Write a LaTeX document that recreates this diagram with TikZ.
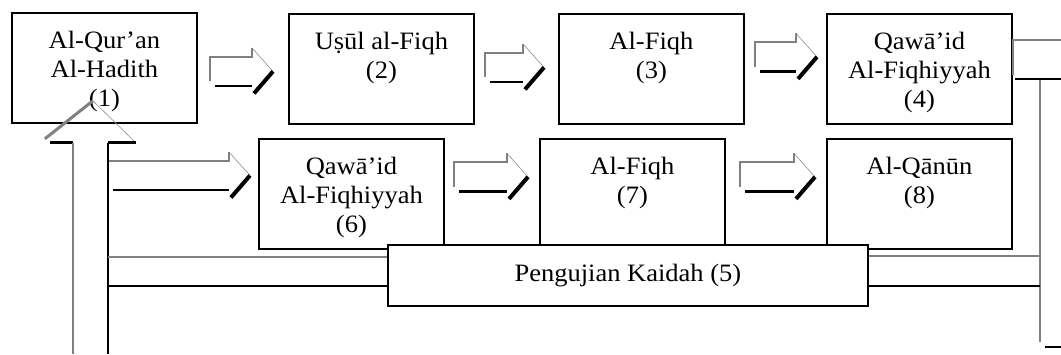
\documentclass[tikz,border=0pt]{standalone}
\usepackage{fontspec}
\setmainfont{Liberation Serif}[FakeStretch=1.06]
\usetikzlibrary{calc}

\definecolor{edgegray}{gray}{0.5}
\definecolor{headgray}{gray}{0.55}

\def\boxw{92.5pt}
\def\boxh{55pt}

\newcommand{\boxtext}[1]{\parbox[t][\boxh][t]{\boxw}{\centering\vspace*{7.8pt}\strut #1}}

\tikzset{
	box/.style={draw, line width=0.9pt, inner sep=0pt, anchor=north west},
	lightedge/.style={draw=edgegray, line width=1pt},
	lighthead/.style={draw=headgray, line width=0.3pt},
	darkedge/.style={draw=black, line width=1.4pt},
	darkhead/.style={draw=black, line width=2pt},
}

% block arrow: start point, target node, gap before the target
\newcommand{\hollowarrow}[3]{%
	\coordinate (ha-s) at #1;
	\path (ha-s -| #2.west) ++(-#3,0) coordinate (ha-t);
	\draw[lightedge] ($(ha-s)+(0,10)$) -- ($(ha-s)+(0,-14.5)$) -- ($(ha-t)+(-21,-14.5)$) -- ($(ha-t)+(-21,-23.5)$);
	\draw[lighthead] ($(ha-t)+(-21,-23.5)$) -- (ha-t);
	\draw[darkedge] ($(ha-s)+(5,14.5)$) -- ($(ha-t)+(-21,14.5)$);
	\draw[darkhead] ($(ha-t)+(-19,22)$) -- (ha-t);
}

\begin{document}
\begin{tikzpicture}[x=0.5pt, y=-0.5pt, font=\fontsize{12.5}{14.5}\selectfont]

	\useasboundingbox (0,0) rectangle (1061,354);

	%%% Top row
	\node[box] (quran) at (11,12) {\boxtext{Al-Qur’an\\Al-Hadith\\(1)}};
	\node[box] (usul) at (288,13) {\boxtext{Uṣūl al-Fiqh\\(2)}};
	\node[box] (fiqh) at (558,13) {\boxtext{Al-Fiqh\\(3)}};
	\node[box] (qawaid) at (826,13) {\boxtext{Qawā’id\\Al-Fiqhiyyah\\(4)}};

	%%% Bottom row
	\node[box] (qawaidb) at (258,138) {\boxtext{Qawā’id\\Al-Fiqhiyyah\\(6)}};
	\node[box] (fiqhb) at (539,138) {\boxtext{Al-Fiqh\\(7)}};
	\node[box] (qanun) at (826,138) {\boxtext{Al-Qānūn\\(8)}};

	%%% Big arrow up into (1)
	\coordinate (up-tip) at ($(quran.south)+(-11.5,-23)$);
	\coordinate (shaft-l) at ($(up-tip)+(-20,42)$);
	\coordinate (shaft-r) at ($(up-tip)+(15,42)$);

	%%% Block arrows
	\hollowarrow{($(quran.east)+(12,3.5)$)}{usul}{15}
	\hollowarrow{($(usul.east)+(10,-1.5)$)}{fiqh}{14}
	\hollowarrow{($(fiqh.east)+(10,-12)$)}{qawaid}{9}
	\hollowarrow{(shaft-r |- 0,175.5)}{qawaidb}{8}
	\hollowarrow{($(qawaidb.east)+(9,-17)$)}{fiqhb}{11}
	\hollowarrow{($(fiqhb.east)+(14,-17)$)}{qanun}{11}

	\draw[lightedge, line width=1.5pt] ($(up-tip)+(-48,38)$) -- (up-tip);
	\draw[lighthead] (up-tip) -- ($(up-tip)+(43,42)$);
	\draw[darkedge] ($(up-tip)+(-43,42)$) -- (shaft-l);
	\draw[darkedge] (shaft-r) -- ($(up-tip)+(43,42)$);
	\draw[lightedge] (shaft-l) -- (shaft-l |- 0,354);
	\draw[darkedge] (shaft-r) -- (shaft-r |- 0,354);

	%%% Arrow out of (4), down the right side
	\coordinate (down-l) at (1040,80);
	\draw[lightedge] ($(qawaid.north east)+(0,62)$) -- ($(qawaid.north east)+(0,27)$) -- (1061,40);
	\draw[darkedge] (1015,79) -- (1061,79);
	\draw[lightedge] (down-l) -- (1040,342);
	\draw[darkedge] (1045,347) -- (1061,347);

	%%% Test box
	\node[box, fill=white, minimum width=240pt, minimum height=30.5pt] (uji) at (387,244) {Pengujian Kaidah (5)};

	%%% Lines into (5)
	\draw[lightedge] (shaft-r |- 0,257) -- (uji.west |- 0,257);
	\draw[darkedge] (shaft-r |- 0,286) -- (uji.west |- 0,286);
	\draw[lightedge] (uji.east |- 0,256) -- (down-l |- 0,256);
	\draw[darkedge] (uji.east |- 0,286) -- (down-l |- 0,286);

\end{tikzpicture}
\end{document}
